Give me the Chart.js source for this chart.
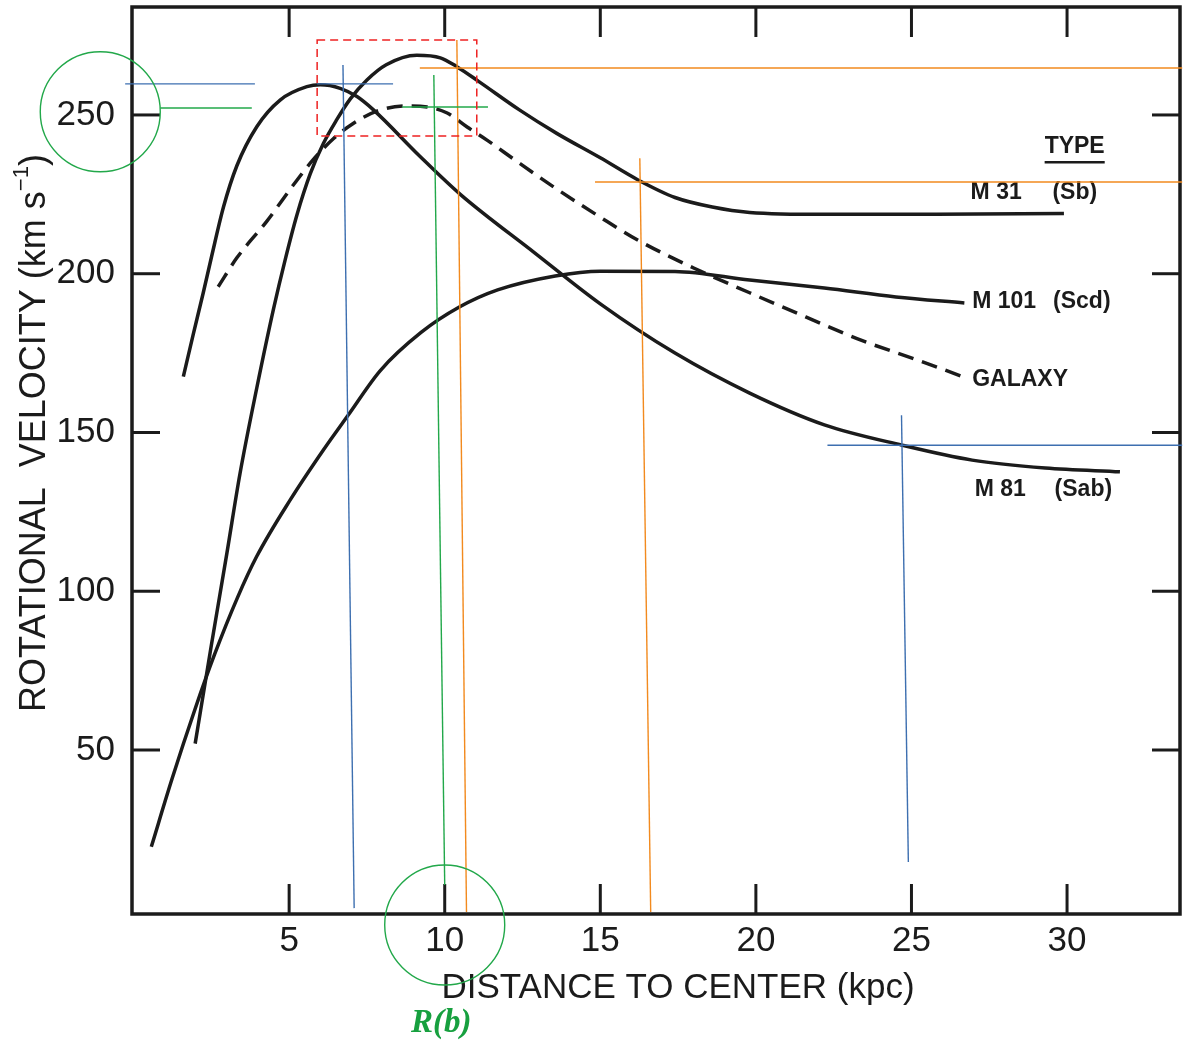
<!DOCTYPE html>
<html>
<head>
<meta charset="utf-8">
<script src="https://cdn.jsdelivr.net/npm/chart.js@4.4.0/dist/chart.umd.min.js"></script>
<style>
  html, body { margin: 0; padding: 0; background: #fff; }
  #wrap { width: 1183px; height: 1045px; }
</style>
</head>
<body>
<div id="wrap"><canvas id="rotChart" width="1183" height="1045"></canvas></div>
<script>
// tick values
const xTicks = [5, 10, 15, 20, 25, 30];
const yTicks = [50, 100, 150, 200, 250];

// rotation curves: [kpc, km/s]
const m31 = [[1.98,52],[2.5,83],[3.0,112],[3.42,137],[3.96,164],[4.5,189],[4.87,204.3],[5.25,218.5],
  [5.68,231.5],[6.1,241],[6.53,248.5],[6.96,255],[7.5,261],[8.12,265.8],[9.1,268.8],[9.86,268],
  [10.39,265.2],[11.1,260.5],[12.4,251.6],[13.6,244.2],[15,236.5],[16.2,229.6],[17.4,224],[18.6,221],
  [19.8,219.3],[22.2,218.7],[25.8,218.7],[29.9,219]];
const m101 = [[0.57,19.5],[1.24,41],[1.98,63],[2.6,80],[3.34,98],[3.96,111],[5.03,128.7],[6.1,144.5],
  [6.9,155.5],[7.93,169.5],[9.24,181.5],[10.47,189.5],[11.7,194.9],[13.55,199.3],[15,200.8],[17.4,200.7],
  [19.8,198],[22.2,195.5],[24.5,192.7],[26.7,190.8]];
const galaxy = [[2.72,195.9],[3.32,205],[4.28,216.5],[5.14,228],[5.78,236],[6.42,242.5],[7.07,247.4],
  [7.82,251.2],[8.73,252.8],[9.44,252.5],[10.08,250.6],[10.72,246.2],[11.37,242],[12.3,235.5],[13.55,227],
  [15,217.8],[16.2,210.6],[18,201.8],[19.8,194],[21.6,186.4],[23.4,179],[25.2,172.8],[26.7,167.4]];
const m81 = [[1.6,167.6],[1.92,181],[2.24,194],[2.51,205.5],[2.89,221],[3.32,234],[3.96,246.3],
  [4.71,254.7],[5.57,258.9],[6.0,259.5],[6.64,258.4],[7.18,255.8],[7.71,251.6],[9.2,237],[10.5,225],
  [12.9,206.5],[15,190.5],[17.4,175],[19.8,162.4],[22.2,152.4],[24.7,146],[26.95,141.3],[29.3,138.8],[31.7,137.6]];

// curve labels (data coords of the left edge of each text)
const curveNames = ['M 31', 'M 101', 'GALAXY', 'M 81'];
const curveTypes = ['(Sb)', '(Scd)', '', '(Sab)'];
const nameX = [26.9, 26.95, 26.95, 27.03];
const typeX = [29.53, 29.55, 0, 29.6];
const labelY = [225.4, 191.1, 166.5, 131.9];

// hand-drawn marks over the figure, in data coords [x1, y1, x2, y2]
const blueSegs = [[-0.27,259.8,3.9,259.8],[5.9,259.8,8.34,259.8],[6.73,265.7,7.09,0.2],
  [24.68,155.4,24.9,14.7],[22.3,146,33.7,146]];
const greenSegs = [[0.86,252.2,3.8,252.2],[8.63,252.5,11.39,252.5],[9.65,262.6,10.0,7.5]];
const greenRings = [[-1.07,251],[10.0,-5.1]];
const orangeSegs = [[9.2,264.8,33.7,264.8],[10.39,273.6,10.7,-1],[14.83,228.9,33.7,228.9],[16.27,236.4,16.62,-1]];
const redBox = [5.9, 273.6, 11.03, 243.4];

const INK = '#1b1b1b';
const SANS = '"Liberation Sans", Arial, sans-serif';

const toXY = arr => arr.map(p => ({ x: p[0], y: p[1] }));

function seg(ctx, x1, y1, x2, y2) {
  ctx.beginPath();
  ctx.moveTo(x1, y1);
  ctx.lineTo(x2, y2);
  ctx.stroke();
}

const figurePlugin = {
  id: 'figure',
  afterDraw(chart) {
    const { ctx, chartArea: a, scales: { x, y } } = chart;
    const X = v => x.getPixelForValue(v);
    const Y = v => y.getPixelForValue(v);
    ctx.save();

    // frame + inward ticks on all four sides
    ctx.strokeStyle = INK;
    ctx.lineWidth = 3.5;
    ctx.strokeRect(a.left, a.top, a.right - a.left, a.bottom - a.top);
    ctx.lineWidth = 3;
    xTicks.forEach(v => {
      seg(ctx, X(v), a.bottom, X(v), a.bottom - 30);
      seg(ctx, X(v), a.top, X(v), a.top + 30);
    });
    yTicks.forEach(v => {
      seg(ctx, a.left, Y(v), a.left + 28, Y(v));
      seg(ctx, a.right, Y(v), a.right - 28, Y(v));
    });

    // axis titles
    ctx.fillStyle = INK;
    ctx.textBaseline = 'middle';
    ctx.textAlign = 'center';
    ctx.font = '35px ' + SANS;
    ctx.fillText('DISTANCE TO CENTER (kpc)', 678, 988);

    ctx.save();
    ctx.translate(35, 433);
    ctx.rotate(-Math.PI / 2);
    const main = 'ROTATIONAL  VELOCITY (km s';
    ctx.font = '36px ' + SANS;
    const w1 = ctx.measureText(main).width;
    const w3 = ctx.measureText(')').width;
    ctx.font = '22px ' + SANS;
    const w2 = ctx.measureText('\u22121').width;
    let cx = -(w1 + w2 + w3) / 2;
    ctx.textAlign = 'left';
    ctx.font = '36px ' + SANS;
    ctx.fillText(main, cx, 0);
    cx += w1;
    ctx.font = '22px ' + SANS;
    ctx.fillText('\u22121', cx, -13);
    cx += w2;
    ctx.font = '36px ' + SANS;
    ctx.fillText(')', cx, 0);
    ctx.restore();

    // curve labels
    ctx.textAlign = 'left';
    ctx.font = 'bold 23px ' + SANS;
    curveNames.forEach((name, i) => {
      ctx.fillText(name, X(nameX[i]), Y(labelY[i]));
      if (curveTypes[i]) ctx.fillText(curveTypes[i], X(typeX[i]), Y(labelY[i]));
    });
    ctx.fillText('TYPE', X(29.28), Y(239.9));
    ctx.lineWidth = 2.5;
    seg(ctx, X(29.28), Y(235.1), X(29.28) + ctx.measureText('TYPE').width, Y(235.1));

    // overlay marks
    ctx.lineWidth = 1.4;
    ctx.strokeStyle = '#3d6fb0';
    blueSegs.forEach(s => seg(ctx, X(s[0]), Y(s[1]), X(s[2]), Y(s[3])));
    ctx.strokeStyle = '#f28a1e';
    orangeSegs.forEach(s => seg(ctx, X(s[0]), Y(s[1]), X(s[2]), Y(s[3])));
    ctx.strokeStyle = '#22a84a';
    greenSegs.forEach(s => seg(ctx, X(s[0]), Y(s[1]), X(s[2]), Y(s[3])));
    greenRings.forEach(c => {
      ctx.beginPath();
      ctx.arc(X(c[0]), Y(c[1]), 60, 0, Math.PI * 2);
      ctx.stroke();
    });
    ctx.strokeStyle = '#ee2222';
    ctx.lineWidth = 1.5;
    ctx.setLineDash([8, 5]);
    ctx.strokeRect(X(redBox[0]), Y(redBox[1]), X(redBox[2]) - X(redBox[0]), Y(redBox[3]) - Y(redBox[1]));
    ctx.setLineDash([]);

    ctx.fillStyle = '#17a03f';
    ctx.textAlign = 'center';
    ctx.font = 'bold italic 33px "Liberation Serif", serif';
    ctx.fillText('R(b)', X(9.89), Y(-36));

    ctx.restore();
  }
};

const curveStyle = {
  borderColor: INK,
  borderWidth: 3.5,
  pointRadius: 0,
  fill: false,
  cubicInterpolationMode: 'monotone'
};

new Chart(document.getElementById('rotChart'), {
  type: 'line',
  data: {
    datasets: [
      { label: 'M 31 (Sb)', data: toXY(m31), ...curveStyle },
      { label: 'M 101 (Scd)', data: toXY(m101), ...curveStyle },
      { label: 'GALAXY', data: toXY(galaxy), ...curveStyle, borderDash: [16, 9] },
      { label: 'M 81 (Sab)', data: toXY(m81), ...curveStyle }
    ]
  },
  options: {
    responsive: false,
    animation: false,
    devicePixelRatio: 1,
    layout: { padding: { top: 7, right: 3, left: 0, bottom: 0 } },
    plugins: { legend: { display: false }, tooltip: { enabled: false } },
    scales: {
      x: {
        type: 'linear',
        min: -0.05,
        max: 33.63,
        afterFit: s => { s.height = 131; s.paddingLeft = 0; s.paddingRight = 0; },
        afterBuildTicks: s => { s.ticks = xTicks.map(v => ({ value: v })); },
        grid: { display: false, drawTicks: false },
        border: { display: false },
        ticks: { color: INK, font: { family: SANS, size: 35 }, padding: 6, maxRotation: 0 }
      },
      y: {
        type: 'linear',
        min: -1.65,
        max: 284,
        afterFit: s => { s.width = 132; s.paddingTop = 0; s.paddingBottom = 0; },
        afterBuildTicks: s => { s.ticks = yTicks.map(v => ({ value: v })); },
        grid: { display: false, drawTicks: false },
        border: { display: false },
        ticks: { color: INK, font: { family: SANS, size: 35 }, padding: 17 }
      }
    }
  },
  plugins: [figurePlugin]
});
</script>
</body>
</html>
